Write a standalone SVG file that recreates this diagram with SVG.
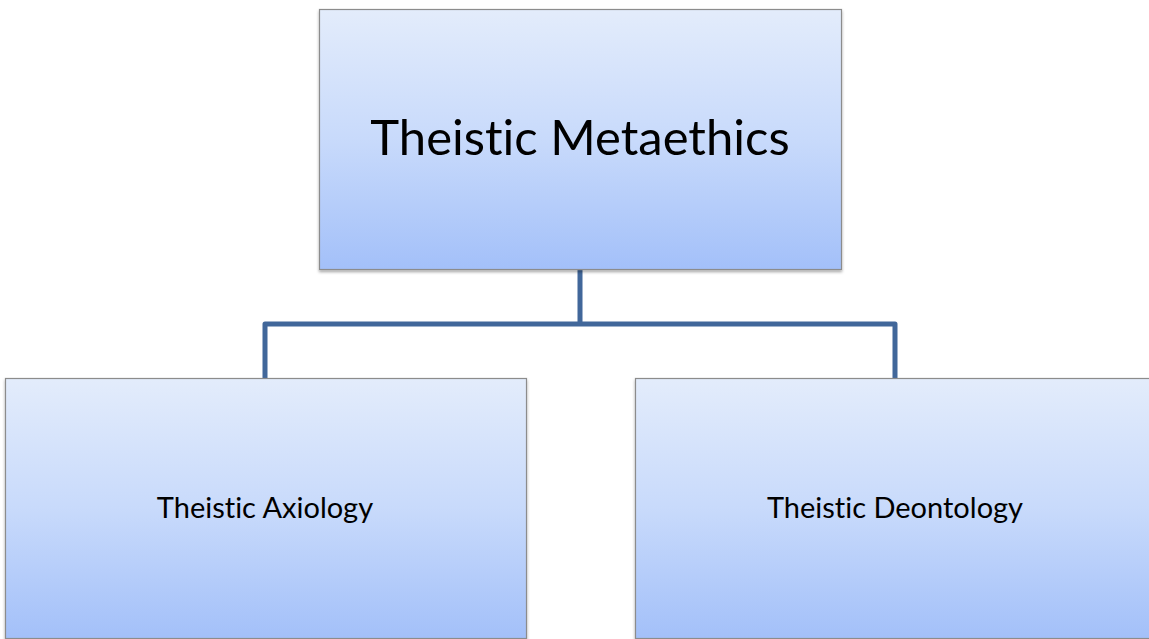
<svg xmlns="http://www.w3.org/2000/svg" width="1149" height="639" viewBox="0 0 1149 639">
<style>
.box{fill:url(#g);stroke:#8c8c8c;stroke-width:1.2;filter:url(#sh)}
.t{font-family:Lato,"Liberation Sans",Arial,sans-serif;fill:#000;text-anchor:middle;font-variant-ligatures:none;font-feature-settings:"liga" 0}
.conn{fill:none;stroke:#41679A;stroke-width:5;stroke-linejoin:round}
</style>
<defs>
<linearGradient id="g" x1="0" y1="0" x2="0" y2="1">
<stop offset="0" stop-color="#E3ECFB"/>
<stop offset="0.5" stop-color="#C8DAFB"/>
<stop offset="1" stop-color="#A3C0F9"/>
</linearGradient>
<filter id="sh" x="-5%" y="-5%" width="110%" height="115%">
<feDropShadow dx="0" dy="2" stdDeviation="1.5" flood-color="#000" flood-opacity="0.35"/>
</filter>
</defs>
<g id="connectors">
<path class="conn" d="M580,269 V324 M265,378 V324 H895 V378"/>
</g>
<g id="node-metaethics">
<rect class="box" x="319.5" y="9.5" width="522" height="260"/>
<text class="t" x="580" y="155" font-size="49">Theistic Metaethics</text>
</g>
<g id="node-axiology">
<rect class="box" x="5.5" y="378.5" width="521" height="260"/>
<text class="t" x="265" y="518" font-size="29">Theistic Axiology</text>
</g>
<g id="node-deontology">
<rect class="box" x="635.5" y="378.5" width="521" height="260"/>
<text class="t" x="895" y="518" font-size="29">Theistic Deontology</text>
</g>
</svg>
